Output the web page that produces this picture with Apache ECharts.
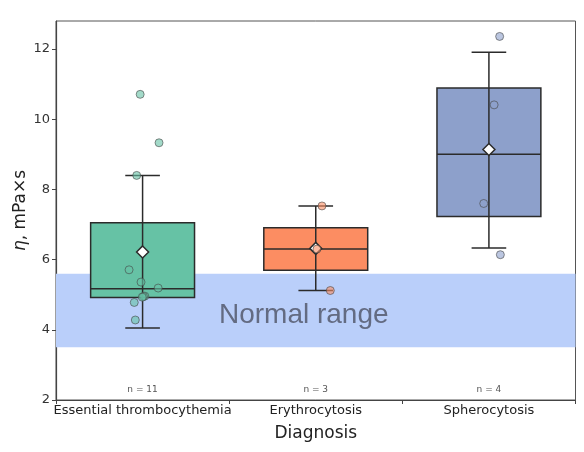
<!DOCTYPE html>
<html>
<head>
<meta charset="utf-8">
<script src="https://cdn.jsdelivr.net/npm/echarts@6/dist/echarts.min.js"></script>
<style>
  html, body { margin: 0; padding: 0; background: #fff; }
  #chart { width: 584px; height: 452px; }
</style>
</head>
<body>
<div id="chart"></div>
<script>
// Blood viscosity by diagnosis
const categories = ['Essential thrombocythemia', 'Erythrocytosis', 'Spherocytosis'];
const counts = [11, 3, 4];

// Box statistics: whisker low, Q1, median, Q3, whisker high
const whiskerLow = [4.05, 5.12, 6.33];
const q1 = [4.92, 5.70, 7.23];
const median = [5.17, 6.30, 9.00];
const q3 = [7.05, 6.91, 10.89];
const whiskerHigh = [8.40, 7.53, 11.91];
const means = [6.22, 6.32, 9.14];

// Individual measurements (mPa·s) and their horizontal jitter (category units)
const etValues = [10.71, 9.33, 8.40, 5.71, 5.36, 5.19, 4.96, 4.95, 4.93, 4.78, 4.28];
const etJitter = [-0.014, 0.095, -0.034, -0.078, -0.009, 0.090, 0.013, 0.005, -0.002, -0.048, -0.042];
const eryValues = [7.53, 6.30, 5.12];
const eryJitter = [0.036, 0.007, 0.084];
const sphValues = [12.36, 10.41, 7.60, 6.14];
const sphJitter = [0.062, 0.030, -0.030, 0.066];

// Reference interval
const normalLow = 3.5;
const normalHigh = 5.6;

const yTicks = [2, 4, 6, 8, 10, 12];

const palette = ['#66c2a5', '#fc8d62', '#8da0cb'];
const edge = '#2b2b2b';

const pointGroups = [
  [etValues, etJitter],
  [eryValues, eryJitter],
  [sphValues, sphJitter]
];

const boxData = categories.map((c, i) => [i, whiskerLow[i], q1[i], median[i], q3[i], whiskerHigh[i], means[i], counts[i]]);

function renderBox(params, api) {
  const i = api.value(0);
  const lo = api.coord([i, api.value(1)]);
  const b1 = api.coord([i, api.value(2)]);
  const md = api.coord([i, api.value(3)]);
  const b3 = api.coord([i, api.value(4)]);
  const hi = api.coord([i, api.value(5)]);
  const mn = api.coord([i, api.value(6)]);
  const left = api.coord([i - 0.3, 0])[0];
  const right = api.coord([i + 0.3, 0])[0];
  const capL = api.coord([i - 0.1, 0])[0];
  const capR = api.coord([i + 0.1, 0])[0];
  const cx = lo[0];
  const bottomY = api.coord([i, 2])[1];
  const lineStyle = { stroke: edge, lineWidth: 1.5 };
  return {
    type: 'group',
    children: [
      { type: 'line', shape: { x1: cx, y1: lo[1], x2: cx, y2: hi[1] }, style: lineStyle, z2: 1 },
      { type: 'rect', shape: { x: left, y: b3[1], width: right - left, height: b1[1] - b3[1] },
        style: { fill: palette[i], stroke: edge, lineWidth: 1.5 }, z2: 2 },
      { type: 'line', shape: { x1: cx, y1: b3[1], x2: cx, y2: b1[1] }, style: lineStyle, z2: 3 },
      { type: 'line', shape: { x1: left, y1: md[1], x2: right, y2: md[1] }, style: lineStyle, z2: 3 },
      { type: 'line', shape: { x1: capL, y1: lo[1], x2: capR, y2: lo[1] }, style: lineStyle, z2: 3 },
      { type: 'line', shape: { x1: capL, y1: hi[1], x2: capR, y2: hi[1] }, style: lineStyle, z2: 3 },
      { type: 'polygon', shape: { points: [[mn[0], mn[1] - 6], [mn[0] + 6, mn[1]], [mn[0], mn[1] + 6], [mn[0] - 6, mn[1]]] },
        style: { fill: '#fff', stroke: edge, lineWidth: 1.5 }, z2: 4 },
      { type: 'text', x: cx, y: bottomY - 10,
        style: { text: 'n = ' + api.value(7), fill: '#555', fontSize: 9, fontFamily: 'DejaVu Sans',
                 align: 'center', verticalAlign: 'middle' }, z2: 5 }
    ]
  };
}

const scatterSeries = pointGroups.map((g, i) => ({
  type: 'scatter',
  xAxisIndex: 1,
  yAxisIndex: 0,
  z: 5,
  symbol: 'circle',
  symbolSize: 8,
  itemStyle: { color: palette[i], borderColor: '#444', borderWidth: 1, opacity: 0.6 },
  emphasis: { disabled: true },
  data: g[0].map((v, k) => [i + g[1][k], v])
}));

const chart = echarts.init(document.getElementById('chart'), null, { renderer: 'canvas' });
chart.setOption({
  animation: false,
  backgroundColor: '#fff',
  grid: {
    left: 56, right: 8.5, top: 21, bottom: 52,
    outerBoundsMode: 'none',
    show: true, borderColor: '#555', borderWidth: 1, backgroundColor: 'transparent'
  },
  xAxis: [
    {
      type: 'category',
      data: categories,
      boundaryGap: true,
      name: 'Diagnosis',
      nameLocation: 'middle',
      nameGap: 25,
      nameTextStyle: { fontSize: 17, color: '#222', fontFamily: 'DejaVu Sans' },
      axisLine: { onZero: false, lineStyle: { color: '#444', width: 1.2 } },
      axisTick: { show: true, length: 4, lineStyle: { color: '#444' } },
      axisLabel: { fontSize: 13, color: '#222', fontFamily: 'DejaVu Sans', margin: 4, interval: 0 },
      splitLine: { show: false }
    },
    {
      type: 'value',
      min: -0.5,
      max: 2.5,
      show: false
    }
  ],
  yAxis: {
    type: 'value',
    min: 2,
    max: 12.8,
    interval: 2,
    name: '{i|η}, mPa×s',
    nameLocation: 'middle',
    nameGap: 27,
    nameMoveOverlap: false,
    nameRotate: 90,
    nameTextStyle: {
      fontSize: 17, color: '#222', fontFamily: 'DejaVu Sans',
      rich: { i: { fontSize: 17, fontStyle: 'italic', color: '#222', fontFamily: 'DejaVu Sans' } }
    },
    axisLine: { show: true, onZero: false, lineStyle: { color: '#444', width: 1.2 } },
    axisTick: { show: true, length: 4, customValues: yTicks, lineStyle: { color: '#444' } },
    axisLabel: { fontSize: 13, color: '#333', fontFamily: 'DejaVu Sans', margin: 6, customValues: yTicks },
    splitLine: { show: false }
  },
  series: [
    {
      type: 'line',
      xAxisIndex: 1,
      yAxisIndex: 0,
      data: [],
      z: 1,
      markArea: {
        silent: true,
        itemStyle: { color: '#bacffa' },
        label: {
          show: true, position: 'inside', offset: [-12, 5],
          fontSize: 28, color: '#636b82', fontFamily: 'Liberation Sans'
        },
        data: [[{ name: 'Normal range', yAxis: normalLow }, { yAxis: normalHigh }]]
      }
    },
    {
      type: 'custom',
      xAxisIndex: 1,
      yAxisIndex: 0,
      z: 3,
      renderItem: renderBox,
      encode: { x: 0, y: [1, 2, 3, 4, 5] },
      data: boxData
    },
    ...scatterSeries
  ]
});
</script>
</body>
</html>
